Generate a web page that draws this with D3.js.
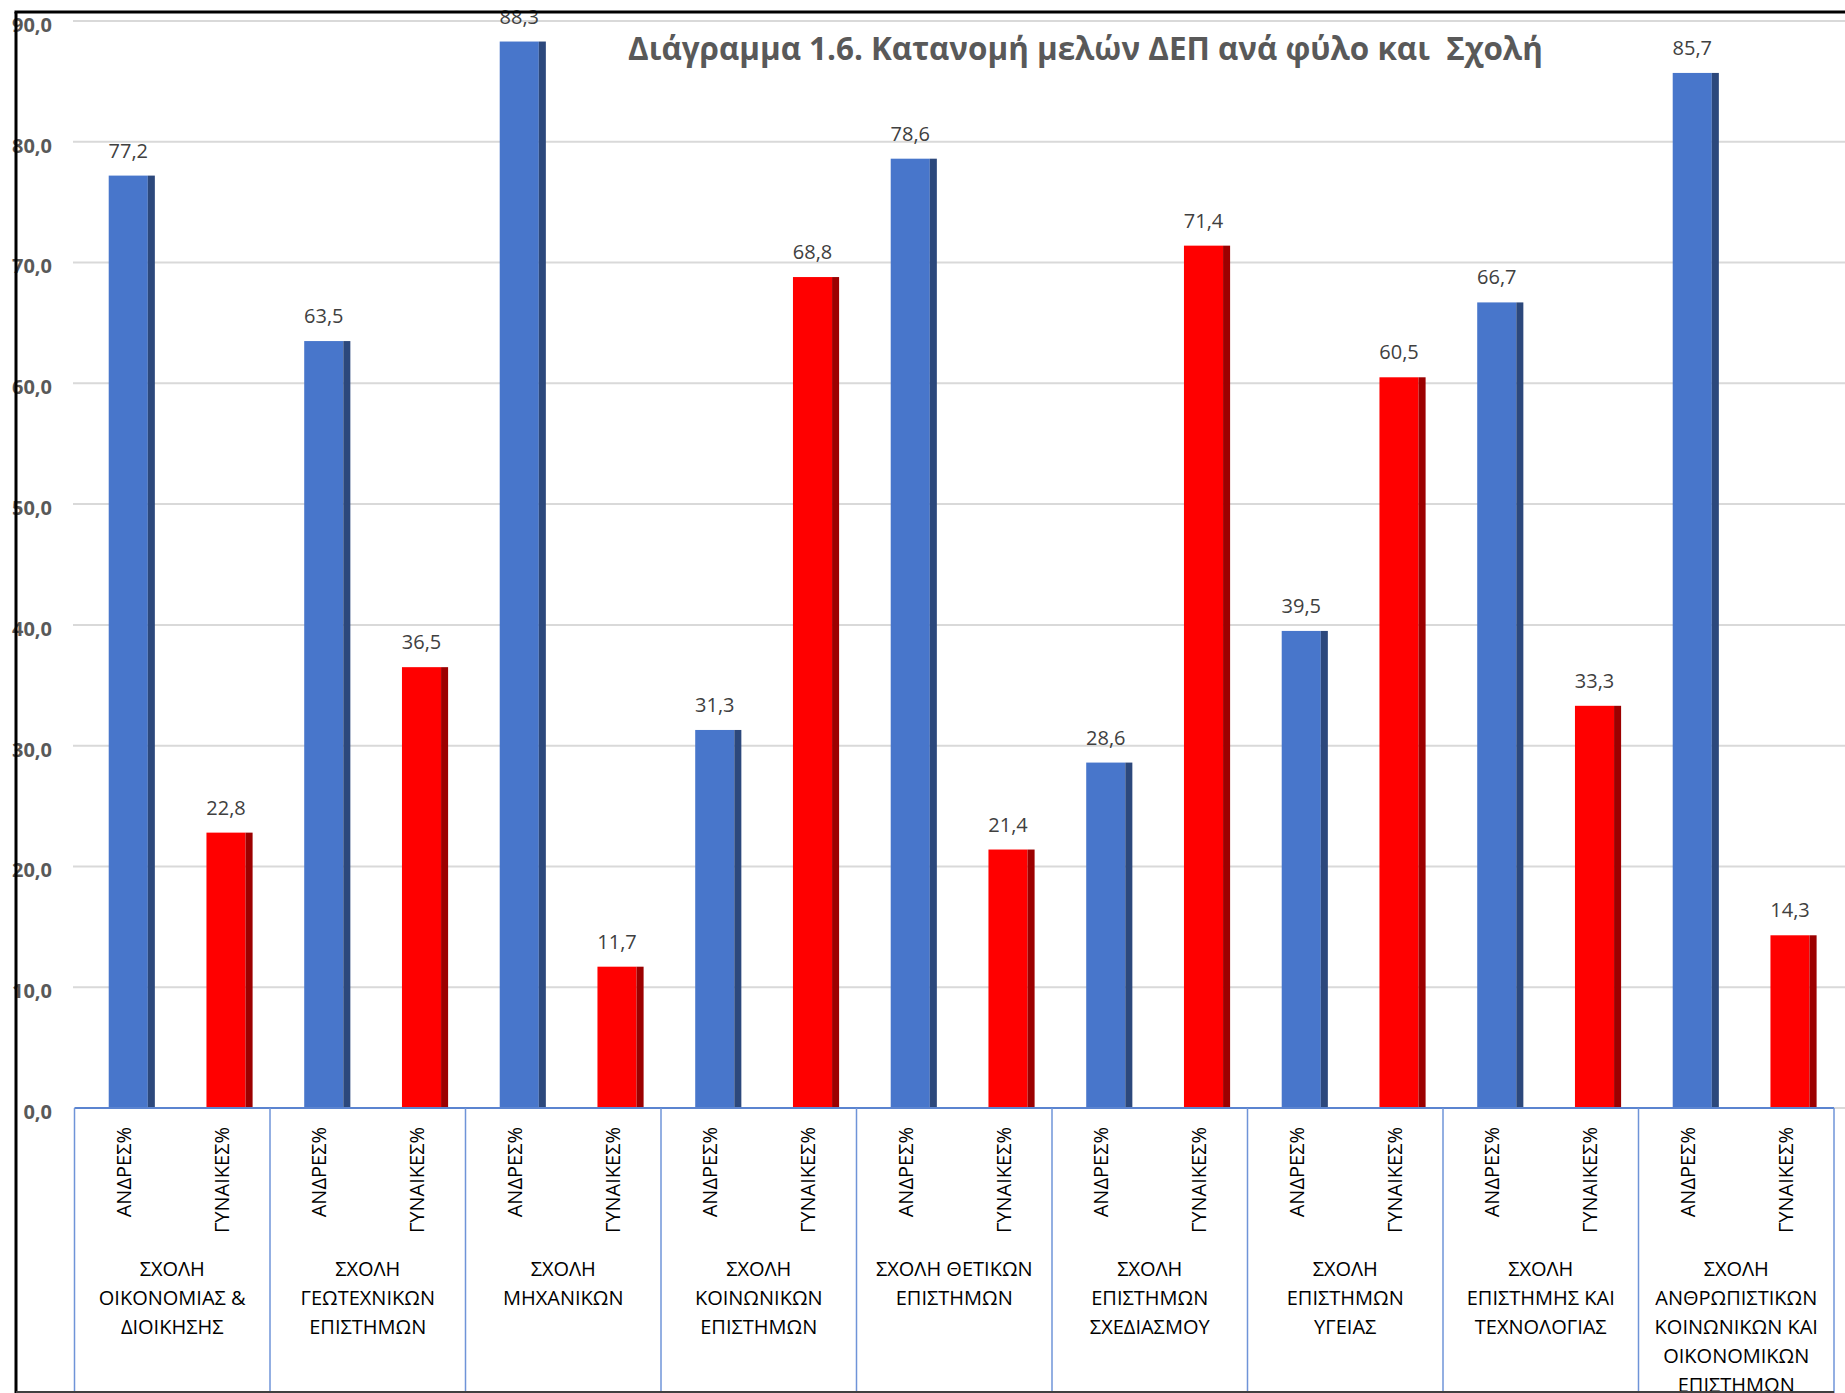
<!DOCTYPE html>
<html>
<head>
<meta charset="utf-8">
<script src="https://cdn.jsdelivr.net/npm/d3@7"></script>
<style>
  html, body { margin: 0; padding: 0; background: #fff; }
  svg { display: block; font-family: "Open Sans", "Noto Sans", sans-serif; }
</style>
</head>
<body>
<svg id="chart" width="1845" height="1393"></svg>
<script>
const title = "Διάγραμμα 1.6. Κατανομή μελών ΔΕΠ ανά φύλο και  Σχολή";
const categories = [
  ["ΣΧΟΛΗ", "ΟΙΚΟΝΟΜΙΑΣ &", "ΔΙΟΙΚΗΣΗΣ"],
  ["ΣΧΟΛΗ", "ΓΕΩΤΕΧΝΙΚΩΝ", "ΕΠΙΣΤΗΜΩΝ"],
  ["ΣΧΟΛΗ", "ΜΗΧΑΝΙΚΩΝ"],
  ["ΣΧΟΛΗ", "ΚΟΙΝΩΝΙΚΩΝ", "ΕΠΙΣΤΗΜΩΝ"],
  ["ΣΧΟΛΗ ΘΕΤΙΚΩΝ", "ΕΠΙΣΤΗΜΩΝ"],
  ["ΣΧΟΛΗ", "ΕΠΙΣΤΗΜΩΝ", "ΣΧΕΔΙΑΣΜΟΥ"],
  ["ΣΧΟΛΗ", "ΕΠΙΣΤΗΜΩΝ", "ΥΓΕΙΑΣ"],
  ["ΣΧΟΛΗ", "ΕΠΙΣΤΗΜΗΣ ΚΑΙ", "ΤΕΧΝΟΛΟΓΙΑΣ"],
  ["ΣΧΟΛΗ", "ΑΝΘΡΩΠΙΣΤΙΚΩΝ", "ΚΟΙΝΩΝΙΚΩΝ ΚΑΙ", "ΟΙΚΟΝΟΜΙΚΩΝ", "ΕΠΙΣΤΗΜΩΝ"]
];
const seriesNames = ["ΑΝΔΡΕΣ%", "ΓΥΝΑΙΚΕΣ%"];
const men   = [77.2, 63.5, 88.3, 31.3, 78.6, 28.6, 39.5, 66.7, 85.7];
const women = [22.8, 36.5, 11.7, 68.8, 21.4, 71.4, 60.5, 33.3, 14.3];
const yTicks = [0, 10, 20, 30, 40, 50, 60, 70, 80, 90];

const seriesValues = [men, women];
const fronts = ["#4876CB", "#FF0000"];
const sides  = ["#2C487C", "#9C0000"];

const svg = d3.select("#chart");
const fmt = v => d3.format(".1f")(v).replace(".", ",");

const y = d3.scaleLinear().domain([0, 90]).range([1108, 21]);
const x0 = d3.scaleBand().domain(d3.range(categories.length)).range([74.5, 1834]).padding(0);
const x1 = d3.scaleBand().domain(seriesNames).range([0, x0.bandwidth()]).padding(0);
const bw = x1.bandwidth();

// gridlines
svg.append("g").selectAll("line").data(yTicks.filter(t => t > 0)).join("line")
  .attr("x1", 73).attr("x2", 1845)
  .attr("y1", d => y(d)).attr("y2", d => y(d))
  .attr("stroke", "#D9D9D9").attr("stroke-width", 2);
svg.append("line").attr("x1", 1834).attr("x2", 1845).attr("y1", y(0)).attr("y2", y(0))
  .attr("stroke", "#D9D9D9").attr("stroke-width", 2);

// y tick labels via axis
const yAxis = svg.append("g").attr("transform", "translate(52,0)")
  .call(d3.axisLeft(y).tickValues(yTicks).tickSize(0).tickPadding(0).tickFormat(fmt));
yAxis.select(".domain").remove();
yAxis.selectAll("text")
  .attr("x", 0).attr("dy", "0.52em")
  .attr("fill", "#595959").attr("font-size", 20).attr("font-weight", "bold")
  .attr("font-family", "'Open Sans', sans-serif").attr("text-anchor", "end");

// bars
const groups = svg.append("g").selectAll("g").data(categories).join("g")
  .attr("transform", (d, i) => `translate(${x0(i)},0)`);

seriesNames.forEach((s, si) => {
  groups.each(function(d, i) {
    const g = d3.select(this);
    const v = seriesValues[si][i];
    const fx = x1(s) + bw * 0.35;
    const fw = bw * 0.40;
    const sw = bw * 0.072;
    g.append("rect").attr("x", fx).attr("y", y(v)).attr("width", fw).attr("height", y(0) - y(v))
      .attr("fill", fronts[si]);
    g.append("rect").attr("x", fx + fw).attr("y", y(v)).attr("width", sw).attr("height", y(0) - y(v))
      .attr("fill", sides[si]);
    g.append("text").attr("x", fx + fw / 2).attr("y", y(v) - 18)
      .attr("text-anchor", "middle").attr("font-size", 20).attr("fill", "#404040")
      .text(fmt(v));
    g.append("text")
      .attr("transform", `translate(${x1(s) + bw / 2},1127) rotate(-90)`)
      .attr("text-anchor", "end").attr("dominant-baseline", "central")
      .attr("font-size", 20).attr("fill", "#000")
      .text(s);
  });
});

// category labels
groups.each(function(d, i) {
  const t = d3.select(this).append("text").attr("text-anchor", "middle")
    .attr("font-size", 20).attr("fill", "#000");
  d.forEach((line, li) => {
    t.append("tspan").attr("x", x0.bandwidth() / 2).attr("y", 1276 + li * 29).text(line);
  });
});

// x axis line and category separators
svg.append("line").attr("x1", 74.5).attr("x2", 1834).attr("y1", y(0)).attr("y2", y(0))
  .attr("stroke", "#5B84D0").attr("stroke-width", 2);
const bounds = d3.range(categories.length + 1).map(i => i < categories.length ? x0(i) : x0.range()[1]);
svg.append("g").selectAll("line").data(bounds).join("line")
  .attr("x1", d => d).attr("x2", d => d).attr("y1", y(0)).attr("y2", 1393)
  .attr("stroke", "#6F94D8").attr("stroke-width", 1.5);

// title
const tt = svg.append("text").attr("x", 628).attr("y", 60)
  .attr("font-weight", "bold").attr("fill", "#595959").attr("font-size", 26)
  .attr("xml:space", "preserve").style("white-space", "pre")
  .text(title);
const len = tt.node().getComputedTextLength();
tt.attr("font-size", 26 * 915 / len);

// frame
svg.append("line").attr("x1", 14.5).attr("x2", 1845).attr("y1", 12).attr("y2", 12)
  .attr("stroke", "#000").attr("stroke-width", 3);
svg.append("line").attr("x1", 16).attr("x2", 16).attr("y1", 12).attr("y2", 1393)
  .attr("stroke", "#000").attr("stroke-width", 3);
svg.append("line").attr("x1", 16).attr("x2", 1834).attr("y1", 1392).attr("y2", 1392)
  .attr("stroke", "#404040").attr("stroke-width", 2);
</script>
</body>
</html>
